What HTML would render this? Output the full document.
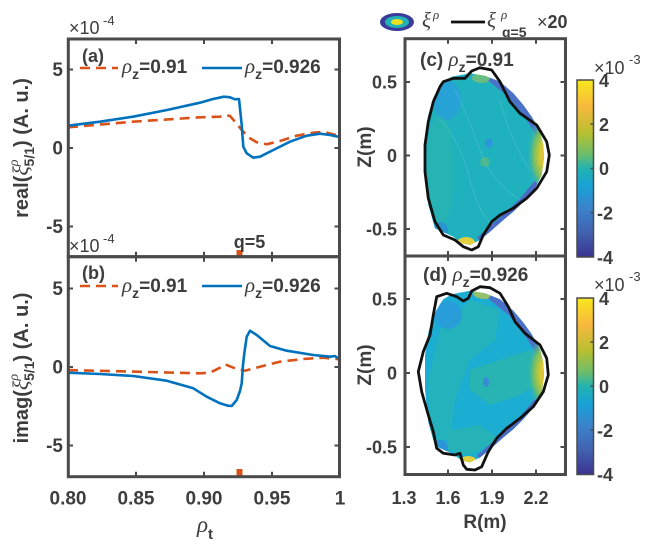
<!DOCTYPE html>
<html><head><meta charset="utf-8">
<style>
html,body{margin:0;padding:0;background:#fff;}
svg{display:block;}
text{font-family:"Liberation Sans",sans-serif;font-weight:bold;fill:#3d3d3d;}
.g{font-family:"Liberation Serif",serif;font-style:italic;font-weight:normal;}
.n{font-weight:normal;}
</style></head><body>
<svg width="651" height="546" viewBox="0 0 651 546" xmlns="http://www.w3.org/2000/svg">
<defs>
<linearGradient id="cb" x1="0" y1="0" x2="0" y2="1">
<stop offset="0" stop-color="#f8e81c"/>
<stop offset="0.15" stop-color="#f8b83e"/>
<stop offset="0.3" stop-color="#b7c030"/>
<stop offset="0.42" stop-color="#6cbd6a"/>
<stop offset="0.5" stop-color="#21b3b0"/>
<stop offset="0.6" stop-color="#18a2d6"/>
<stop offset="0.72" stop-color="#3a84cc"/>
<stop offset="0.86" stop-color="#4262b0"/>
<stop offset="1" stop-color="#3a3391"/>
</linearGradient>
<radialGradient id="yel" cx="0.5" cy="0.5" r="0.5">
<stop offset="0" stop-color="#f6c034"/>
<stop offset="0.35" stop-color="#d8c838"/>
<stop offset="0.65" stop-color="#78c060"/>
<stop offset="1" stop-color="#20b1bf" stop-opacity="0"/>
</radialGradient>
<clipPath id="pc"><path d="M443.3,81.7 L451.7,76.7 L470,73.3 L485,75.7 L500,81.7 L513.3,93.3 L523.3,105 L531.7,116.7 L540,131.7 L543.3,145 L544,158.3 L541.7,175 L535,188.3 L523.3,201.7 L513.3,211.7 L503.3,220 L490,231.7 L480,240 L470,245 L461.7,243.3 L453.3,236.7 L435,228.3 L428.3,205 L425,171.7 L425,138.3 L428.3,115 L433.3,98.3 L440,86.7 Z"/></clipPath>
<clipPath id="pd"><path transform="translate(0,217.5)" d="M443.3,81.7 L451.7,76.7 L470,73.3 L485,75.7 L500,81.7 L513.3,93.3 L523.3,105 L531.7,116.7 L540,131.7 L543.3,145 L544,158.3 L541.7,175 L535,188.3 L523.3,201.7 L513.3,211.7 L503.3,220 L490,231.7 L480,240 L470,245 L461.7,243.3 L453.3,236.7 L435,228.3 L428.3,205 L425,171.7 L425,138.3 L428.3,115 L433.3,98.3 L440,86.7 Z"/></clipPath>
</defs>

<!-- ===== Left panels ===== -->
<text x="69" y="34" font-size="18" class="n">×10</text><text x="103" y="25" font-size="13" class="n">-4</text>
<text x="69" y="252" font-size="18" class="n">×10</text><text x="103" y="243" font-size="13" class="n">-4</text>

<path d="M68,127.3 L133,121.7 L200,117.3 L220,116.7 L225,115 L230,116 L235,121.7 L241.7,130 L250,138.3 L256.7,142.3 L266.7,144.3 L280,141 L296.7,135.7 L313.3,132.7 L323.3,131.7 L339.5,136" fill="none" stroke="#d95319" stroke-width="2.6" stroke-dasharray="10 6"/>
<path d="M68,125.7 L100,121.7 L133,116.7 L167,110 L200,102.7 L213,99 L224,96.7 L230,97.3 L235,99.3 L239,99 L241.7,125 L243.3,146.7 L246.7,153.3 L253.3,157.7 L260,156.7 L273.3,150 L290,141.7 L306.7,135.7 L320,133.7 L330,135 L339.5,137" fill="none" stroke="#0072bd" stroke-width="2.6" stroke-linejoin="round"/>
<path d="M68,370 L200,373.3 L210,372.7 L220,367.7 L225,364.3 L233.3,367.7 L245,370.7 L260,366.7 L280,361.7 L303.3,359 L323.3,357.7 L339.5,359.3" fill="none" stroke="#d95319" stroke-width="2.6" stroke-dasharray="10 6"/>
<path d="M68,372.7 L100,374 L133.3,376 L166.7,380.7 L193.3,388.3 L206.7,396.7 L220,403.3 L228,405.7 L231.7,406 L236.7,400 L240,391 L241.7,383.3 L243,365 L244.3,353.3 L246.7,336.7 L250,330.7 L256.7,335 L270,346 L286.7,350.7 L313.3,355 L330,356.7 L335,356 L339.5,359.3" fill="none" stroke="#0072bd" stroke-width="2.6" stroke-linejoin="round"/>

<rect x="236.5" y="250" width="6" height="6" fill="#d95319"/>
<rect x="236.5" y="469" width="6" height="7" fill="#d95319"/>
<text x="249.5" y="248" font-size="18" text-anchor="middle">q=5</text>

<g stroke="#4a4a4a" fill="none">
<rect x="68.3" y="39" width="271.2" height="217.7" stroke-width="3"/>
<rect x="68.3" y="256.7" width="271.2" height="220" stroke-width="3"/>
<path stroke-width="2" d="M136,39v5M204,39v5M272,39v5 M136,256.7v-5M204,256.7v-5M272,256.7v-5 M136,256.7v5M204,256.7v5M272,256.7v5 M136,476.7v-5M204,476.7v-5M272,476.7v-5
M68,69.5h5M68,148h5M68,226.5h5 M339.5,69.5h-5M339.5,148h-5M339.5,226.5h-5
M68,288.5h5M68,367h5M68,445.5h5 M339.5,288.5h-5M339.5,367h-5M339.5,445.5h-5"/>
</g>

<g font-size="19" text-anchor="end">
<text x="63" y="76">5</text><text x="63" y="154.5">0</text><text x="63" y="233">-5</text>
<text x="63" y="295">5</text><text x="63" y="373.5">0</text><text x="63" y="452">-5</text>
</g>
<g font-size="19" text-anchor="middle">
<text x="68" y="504.5">0.80</text><text x="136" y="504.5">0.85</text><text x="204" y="504.5">0.90</text><text x="272" y="504.5">0.95</text><text x="340" y="504.5">1</text>
</g>
<text x="197" y="532" font-size="23" class="g">ρ</text><text x="208" y="539" font-size="15">t</text>

<text transform="translate(28,148) rotate(-90)" font-size="20" text-anchor="middle">real(<tspan class="g" font-size="22">ξ</tspan><tspan class="g" font-size="14" dy="-10">ρ</tspan><tspan font-size="14" dx="-7" dy="16">5/1</tspan><tspan dy="-6">) (A. u.)</tspan></text>
<text transform="translate(28,368) rotate(-90)" font-size="20" text-anchor="middle">imag(<tspan class="g" font-size="22">ξ</tspan><tspan class="g" font-size="14" dy="-10">ρ</tspan><tspan font-size="14" dx="-7" dy="16">5/1</tspan><tspan dy="-6">) (A. u.)</tspan></text>

<line x1="80" y1="68" x2="118" y2="68" stroke="#d95319" stroke-width="2.6" stroke-dasharray="10 6"/>
<line x1="202" y1="68" x2="242" y2="68" stroke="#0072bd" stroke-width="2.6"/>
<text x="82" y="62" font-size="18">(a)</text>
<text x="122" y="73" font-size="19"><tspan class="g" font-size="21">ρ</tspan><tspan font-size="14" dy="6">z</tspan><tspan dy="-6">=0.91</tspan></text>
<text x="245" y="73" font-size="19"><tspan class="g" font-size="21">ρ</tspan><tspan font-size="14" dy="6">z</tspan><tspan dy="-6">=0.926</tspan></text>
<line x1="80" y1="286" x2="118" y2="286" stroke="#d95319" stroke-width="2.6" stroke-dasharray="10 6"/>
<line x1="202" y1="286" x2="242" y2="286" stroke="#0072bd" stroke-width="2.6"/>
<text x="82" y="279" font-size="18">(b)</text>
<text x="122" y="292" font-size="19"><tspan class="g" font-size="21">ρ</tspan><tspan font-size="14" dy="6">z</tspan><tspan dy="-6">=0.91</tspan></text>
<text x="245" y="292" font-size="19"><tspan class="g" font-size="21">ρ</tspan><tspan font-size="14" dy="6">z</tspan><tspan dy="-6">=0.926</tspan></text>

<!-- ===== Right panels ===== -->
<ellipse cx="397" cy="22" rx="17" ry="9" fill="#3b3c9a"/>
<ellipse cx="397" cy="22" rx="12" ry="6" fill="#21b3b5"/>
<ellipse cx="397" cy="22" rx="6" ry="3" fill="#f0e020"/>
<text x="422" y="27" font-size="21" class="g">ξ</text><text x="433" y="19" font-size="13" class="g">ρ</text>
<line x1="451" y1="22" x2="485" y2="22" stroke="#111" stroke-width="2.8"/>
<text x="487" y="27" font-size="21" class="g">ξ</text><text x="501" y="19" font-size="13" class="g">ρ</text>
<text x="502" y="37" font-size="14">q=5</text>
<text x="537" y="28" font-size="18"><tspan class="n">×</tspan>20</text>

<g clip-path="url(#pc)">
<rect x="420" y="65" width="130" height="185" fill="#20b1bf"/>
<ellipse cx="440" cy="170" rx="14" ry="55" fill="#2ab4ac" opacity="0.6"/>
<ellipse cx="447" cy="100" rx="14" ry="20" fill="#2a9ddc" opacity="0.75"/>
<ellipse cx="482" cy="78" rx="10" ry="5" fill="#9cc458" opacity="0.6"/>
<path d="M492,76 L513,93 L524,106 L533,119 L542,134" fill="none" stroke="#4b72c8" stroke-width="12"/>
<ellipse cx="548" cy="155" rx="22" ry="42" fill="url(#yel)"/>
<path d="M538,184 L523,202 L505,219 L490,232 L480,241" fill="none" stroke="#4a6cc4" stroke-width="9"/>
<ellipse cx="466" cy="243" rx="9" ry="6" fill="#e2d040"/>
<ellipse cx="440" cy="230" rx="8" ry="8" fill="#2a8fd8" opacity="0.8"/>
<ellipse cx="489" cy="143" rx="4" ry="5" fill="#2a98d8"/>
<ellipse cx="485" cy="162" rx="5" ry="5" fill="#48b890"/>
<g fill="none" stroke="#fff" stroke-opacity="0.15" stroke-width="0.8">
<path d="M440,120 Q460,140 470,180 T500,230"/>
<path d="M455,90 Q470,120 480,150 T520,200"/>
<path d="M500,100 Q510,140 530,170"/>
</g>
</g>
<path d="M443.3,81.7 L453.3,78.3 L465,78.3 L471.7,71 L480,67.7 L491.7,70 L500,81.7 L510,101.7 L520,113.3 L536.7,125 L546.7,141.7 L549.3,155 L546.7,171.7 L536.7,188.3 L526.7,198.3 L513.3,208.3 L500,215 L491.7,221.7 L483.3,235 L478.3,246.7 L471.7,250 L463.3,246.7 L455,240 L443.3,235 L435,221.7 L428.3,198.3 L425,171.7 L425,145 L428.3,121.7 L433.3,101.7 L440,86.7 Z" fill="none" stroke="#111" stroke-width="2.8" stroke-linejoin="round"/>

<g clip-path="url(#pd)">
<rect x="420" y="285" width="130" height="190" fill="#1caed2"/>
<path d="M440,330 L470,300 L500,310 L495,340 L470,360 L455,400 L450,440 L430,440 L428,380 Z" fill="#27b3b6" opacity="0.8"/>
<path d="M470,370 L500,360 L530,350 L545,380 L520,395 L490,405 L470,390 Z" fill="#2ab5ab" opacity="0.8"/>
<path d="M450,430 L480,425 L500,440 L470,455 L445,450 Z" fill="#2ab5ab" opacity="0.7"/>
<ellipse cx="448" cy="315" rx="14" ry="14" fill="#2a98dc" opacity="0.8"/>
<ellipse cx="485" cy="293" rx="12" ry="6" fill="#c8c840" opacity="0.7"/>
<path d="M492,294 L513,311 L524,324 L533,337 L542,352" fill="none" stroke="#4b72c8" stroke-width="12"/>
<ellipse cx="548" cy="373" rx="22" ry="42" fill="url(#yel)"/>
<path d="M538,402 L523,420 L505,437 L490,450 L480,459" fill="none" stroke="#4a6cc4" stroke-width="9"/>
<ellipse cx="468" cy="462" rx="9" ry="6" fill="#e2d040"/>
<ellipse cx="440" cy="448" rx="8" ry="8" fill="#2a8fd8" opacity="0.8"/>
<ellipse cx="486" cy="382" rx="3" ry="5" fill="#3a8ad8"/>
</g>
<path d="M436.7,296.7 L446.7,293.3 L456.7,296.7 L463.3,301 L468.3,298.3 L471.7,291 L480,286.7 L490,287.7 L500,293.3 L508.3,306.7 L515,321.7 L525,333.3 L540,345 L546.7,358.3 L548.3,375 L543.3,391.7 L533.3,406.7 L520,418.3 L506.7,428.3 L496.7,438.3 L488.3,451.7 L481.7,466.7 L475,470 L466.7,469.3 L463.3,465 L460,453.3 L455,455 L443.3,453.3 L436.7,448.3 L433.3,431.7 L428.3,415 L421.7,391.7 L418.3,371.7 L423.3,351.7 L430,335 L433.3,315 Z" fill="none" stroke="#111" stroke-width="2.8" stroke-linejoin="round"/>

<g stroke="#4a4a4a" fill="none">
<rect x="405" y="38.7" width="160.5" height="217.3" stroke-width="3"/>
<rect x="405" y="256" width="160.5" height="218.5" stroke-width="3"/>
<path stroke-width="2" d="M448,38.7v5M492,38.7v5M536,38.7v5 M448,256v-5M492,256v-5M536,256v-5 M448,256v5M492,256v5M536,256v5 M448,474.5v-5M492,474.5v-5M536,474.5v-5
M405,82h5M405,155.5h5M405,229h5 M565.5,82h-5M565.5,155.5h-5M565.5,229h-5
M405,299h5M405,373h5M405,447h5 M565.5,299h-5M565.5,373h-5M565.5,447h-5"/>
</g>
<text x="420" y="66" font-size="19">(c) <tspan class="g" font-size="21">ρ</tspan><tspan font-size="14" dy="6">z</tspan><tspan dy="-6">=0.91</tspan></text>
<text x="423" y="281" font-size="19">(d) <tspan class="g" font-size="21">ρ</tspan><tspan font-size="14" dy="6">z</tspan><tspan dy="-6">=0.926</tspan></text>

<g font-size="18" text-anchor="end">
<text x="397" y="88.5">0.5</text><text x="397" y="162">0</text><text x="397" y="235.5">-0.5</text>
<text x="397" y="305.5">0.5</text><text x="397" y="379.5">0</text><text x="397" y="453.5">-0.5</text>
</g>
<text transform="translate(371,147) rotate(-90)" font-size="19" text-anchor="middle">Z(m)</text>
<text transform="translate(371,365) rotate(-90)" font-size="19" text-anchor="middle">Z(m)</text>
<g font-size="18" text-anchor="middle">
<text x="404" y="504">1.3</text><text x="448" y="504">1.6</text><text x="492" y="504">1.9</text><text x="536" y="504">2.2</text>
</g>
<text x="485" y="528" font-size="19" text-anchor="middle">R(m)</text>

<rect x="577" y="80" width="16.5" height="177" fill="url(#cb)" stroke="#4a4a4a" stroke-width="1.5"/>
<rect x="577" y="298" width="16.5" height="176.5" fill="url(#cb)" stroke="#4a4a4a" stroke-width="1.5"/>
<g stroke="#4a4a4a" stroke-width="1.5">
<path d="M593.5,124h-3M593.5,168.5h-3M593.5,212.5h-3 M593.5,342h-3M593.5,386h-3M593.5,430h-3"/>
</g>
<g font-size="18">
<text x="599" y="87">4</text><text x="599" y="131">2</text><text x="599" y="175">0</text><text x="597" y="219.5">-2</text><text x="597" y="264">-4</text>
<text x="599" y="305">4</text><text x="599" y="349">2</text><text x="599" y="393">0</text><text x="597" y="437">-2</text><text x="597" y="481">-4</text>
</g>
<text x="594" y="74" font-size="18" class="n">×10</text><text x="629" y="64" font-size="13" class="n">-3</text>
<text x="594" y="291" font-size="18" class="n">×10</text><text x="629" y="281" font-size="13" class="n">-3</text>
</svg>
</body></html>
